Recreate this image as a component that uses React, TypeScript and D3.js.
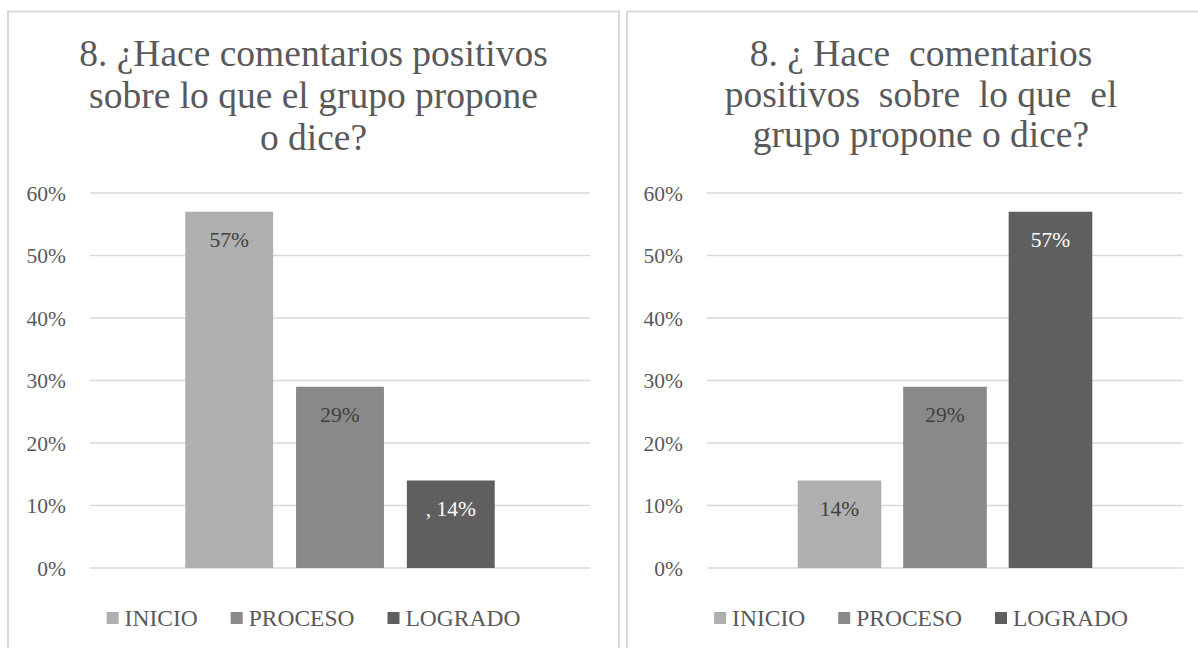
import React from "react";
import * as d3 from "d3";

const series = ["INICIO", "PROCESO", "LOGRADO"];
const seriesColors = ["#afafaf", "#898989", "#5f5f5f"];
const labelColors = ["#404040", "#404040", "#ffffff"];

const leftTitle = ["8. ¿Hace comentarios positivos", "sobre lo que el grupo propone", "o dice?"];
const leftValues = [0.57, 0.29, 0.14];
const leftLabels = ["57%", "29%", ", 14%"];

const rightTitle = ["8. ¿ Hace  comentarios", "positivos  sobre  lo que  el", "grupo propone o dice?"];
const rightValues = [0.14, 0.29, 0.57];
const rightLabels = ["14%", "29%", "57%"];

const yTicks = [0, 0.1, 0.2, 0.3, 0.4, 0.5, 0.6];

const FONT = "'Liberation Serif', 'Times New Roman', Times, serif";
const TEXT = "#595959";
const GRID = "#d9d9d9";

const W = 1198;
const H = 648;

function measure(text: string, size: number): number {
  if (typeof document === "undefined") return text.length * size * 0.6;
  const c = document.createElement("canvas");
  const ctx = c.getContext("2d");
  if (!ctx) return text.length * size * 0.6;
  ctx.font = `${size}px ${FONT}`;
  return ctx.measureText(text).width;
}

type PanelProps = {
  px: number;
  pw: number;
  plotX0: number;
  plotX1: number;
  title: string[];
  titleLH: number;
  values: number[];
  labels: string[];
};

function Panel({ px, pw, plotX0, plotX1, title, titleLH, values, labels }: PanelProps) {
  const cx = px + pw / 2;
  const y = d3.scaleLinear().domain([0, 0.6]).range([568, 193]);
  const x = d3
    .scaleBand<string>()
    .domain(series)
    .range([plotX0, plotX1])
    .paddingInner(0.207)
    .paddingOuter(0.86);
  const fmt = d3.format(".0%");

  const legendSize = 23.5;
  const sq = 12;
  const sqGap = 6;
  const itemGap = 33;
  const widths = series.map((s) => measure(s, legendSize));
  const total =
    widths.reduce((a, b) => a + b, 0) + series.length * (sq + sqGap) + (series.length - 1) * itemGap;
  let lx = cx - total / 2;
  const legendItems = series.map((s, i) => {
    const item = { s, i, x: lx };
    lx += sq + sqGap + widths[i] + itemGap;
    return item;
  });

  return (
    <g>
      <rect x={px} y={11.5} width={pw} height={700} fill="#ffffff" stroke={GRID} strokeWidth={2} />
      {title.map((t, i) => (
        <text
          key={i}
          x={cx}
          y={66 + i * titleLH}
          textAnchor="middle"
          fontFamily={FONT}
          fontSize={37.5}
          fill={TEXT}
          style={{ whiteSpace: "pre" }}
        >
          {t}
        </text>
      ))}
      {yTicks.map((t) => (
        <g key={t}>
          <line x1={plotX0} x2={plotX1} y1={y(t)} y2={y(t)} stroke={GRID} strokeWidth={1.5} />
          <text
            x={plotX0 - 24}
            y={y(t)}
            dy="0.35em"
            textAnchor="end"
            fontFamily={FONT}
            fontSize={21.5}
            fill={TEXT}
          >
            {fmt(t)}
          </text>
        </g>
      ))}
      {series.map((s, i) => (
        <rect
          key={s}
          x={x(s)}
          y={y(values[i])}
          width={x.bandwidth()}
          height={y(0) - y(values[i])}
          fill={seriesColors[i]}
        />
      ))}
      {series.map((s, i) => (
        <text
          key={s}
          x={(x(s) as number) + x.bandwidth() / 2}
          y={y(values[i]) + 35.5}
          textAnchor="middle"
          fontFamily={FONT}
          fontSize={21.5}
          fill={labelColors[i]}
        >
          {labels[i]}
        </text>
      ))}
      {legendItems.map(({ s, i, x: ix }) => (
        <g key={s}>
          <rect x={ix} y={612} width={sq} height={sq} fill={seriesColors[i]} />
          <text x={ix + sq + sqGap} y={626} fontFamily={FONT} fontSize={legendSize} fill={TEXT}>
            {s}
          </text>
        </g>
      ))}
    </g>
  );
}

export default function App() {
  return (
    <svg
      width={W}
      height={H}
      viewBox={`0 0 ${W} ${H}`}
      style={{ position: "absolute", left: 0, top: 0, background: "#ffffff" }}
    >
      <rect x={0} y={0} width={W} height={H} fill="#ffffff" />
      <Panel
        px={8}
        pw={611}
        plotX0={90}
        plotX1={590}
        title={leftTitle}
        titleLH={42}
        values={leftValues}
        labels={leftLabels}
      />
      <Panel
        px={627}
        pw={588}
        plotX0={707}
        plotX1={1183}
        title={rightTitle}
        titleLH={40.5}
        values={rightValues}
        labels={rightLabels}
      />
    </svg>
  );
}
